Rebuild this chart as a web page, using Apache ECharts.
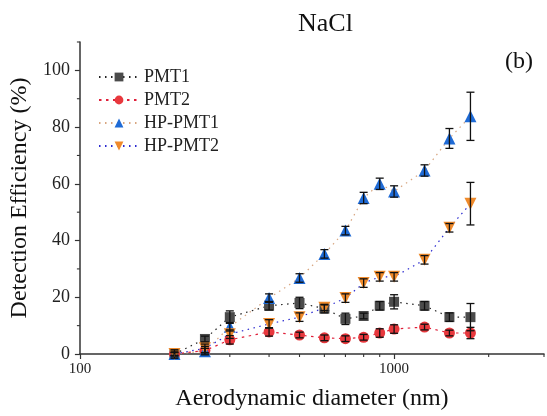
<!DOCTYPE html>
<html>
<head>
<meta charset="utf-8">
<script src="https://cdn.jsdelivr.net/npm/echarts@6/dist/echarts.min.js"></script>
<style>
  html, body { margin: 0; padding: 0; background: #fff; }
  #main { width: 547px; height: 416px; }
</style>
</head>
<body>
<div id="main"></div>
<script>
// aerodynamic diameter (nm)
var diameters = [200, 250, 300, 400, 500, 600, 700, 800, 900, 1000, 1250, 1500, 1750];

// detection efficiency (%) and error bars
var pmt1      = [0, 5.3, 13, 17, 18, 16, 12.4, 13.4, 17, 18.4, 17, 13, 13];
var pmt1Err   = [0.5, 1, 2.2, 1.5, 2, 1.5, 2, 1, 1.5, 2.5, 1.5, 1.5, 4.8];
var pmt2      = [0, 1.2, 5, 7.8, 6.7, 5.7, 5.4, 5.9, 7.4, 8.8, 9.5, 7.4, 7.4];
var pmt2Err   = [0.5, 1.5, 1.5, 1.5, 1, 1, 1, 1, 1.5, 1.5, 1, 1, 2];
var hpPmt1    = [0, 1, 9.6, 19.7, 26.8, 35.3, 43.5, 55, 60, 57.3, 64.7, 76, 83.8];
var hpPmt1Err = [1.5, 1, 1.5, 1.5, 1.5, 1.5, 1.5, 2, 2, 2, 2, 3.5, 8.5];
var hpPmt2    = [0, 2, 7, 10.6, 13, 16.3, 19.7, 25, 27.2, 27.2, 33.2, 44.5, 53];
var hpPmt2Err = [1, 1.5, 1.5, 1.5, 1.5, 1, 1.5, 1.5, 1.5, 1.5, 1.5, 1.5, 7.5];

// minor tick positions
var xMinorTicks = [200, 300, 400, 500, 600, 700, 800, 900, 2000, 3000];
var yMinorTicks = [10, 30, 50, 70, 90, 110];

var FONT = "'Liberation Serif', 'DejaVu Serif', serif";

function pairs(ys) {
    return diameters.map(function (d, i) { return [d, ys[i]]; });
}
function triples(ys, errs) {
    return diameters.map(function (d, i) { return [d, ys[i], errs[i]]; });
}

function lineSeries(name, ys, symbol, size, color, lineColor, dash, rotate) {
    return {
        name: name,
        type: 'line',
        data: pairs(ys),
        symbol: symbol,
        symbolSize: size,
        symbolRotate: rotate || 0,
        showAllSymbol: true,
        itemStyle: { color: color, opacity: 1 },
        lineStyle: { color: lineColor, width: 1.2, type: dash },
        emphasis: { disabled: true },
        z: 3
    };
}

function errorSeries(ys, errs) {
    return {
        type: 'custom',
        data: triples(ys, errs),
        clip: false,
        z: 5,
        silent: true,
        renderItem: function (params, api) {
            var x = api.value(0), y = api.value(1), e = api.value(2);
            var hi = api.coord([x, y + e]);
            var lo = api.coord([x, y - e]);
            var w = 4;
            var st = { stroke: '#111', lineWidth: 1.3 };
            return {
                type: 'group',
                children: [
                    { type: 'line', shape: { x1: hi[0], y1: hi[1], x2: lo[0], y2: lo[1] }, style: st },
                    { type: 'line', shape: { x1: hi[0] - w, y1: hi[1], x2: hi[0] + w, y2: hi[1] }, style: st },
                    { type: 'line', shape: { x1: lo[0] - w, y1: lo[1], x2: lo[0] + w, y2: lo[1] }, style: st }
                ]
            };
        }
    };
}

var myChart = echarts.init(document.getElementById('main'));
myChart.setOption({
    animation: false,
    backgroundColor: '#fff',
    title: {
        text: 'NaCl',
        left: 293,
        top: 6,
        textStyle: { fontFamily: FONT, fontSize: 26, fontWeight: 'normal', color: '#111' }
    },
    graphic: [{
        type: 'text',
        left: 505,
        top: 50,
        style: { text: '(b)', font: "24px 'Liberation Serif', serif", fill: '#111' }
    }],
    legend: {
        data: ['PMT1', 'PMT2', 'HP-PMT1', 'HP-PMT2'],
        orient: 'vertical',
        left: 93,
        top: 63,
        itemWidth: 40,
        itemHeight: 11,
        itemGap: 5,
        textStyle: { fontFamily: FONT, fontSize: 18, color: '#222' }
    },
    grid: { left: 78, right: 3, top: 42, bottom: 62, containLabel: false },
    xAxis: {
        type: 'log',
        logBase: 10,
        min: 100,
        max: 3000,
        name: 'Aerodynamic diameter (nm)',
        nameLocation: 'middle',
        nameGap: 33,
        nameTextStyle: { fontFamily: FONT, fontSize: 24, color: '#111' },
        axisLine: { lineStyle: { color: '#333', width: 1.5 } },
        axisTick: { show: true, length: 5, lineStyle: { color: '#333', width: 1.2 } },
        axisLabel: {
            showMaxLabel: false, margin: 8, fontFamily: FONT, fontSize: 15, color: '#222',
            formatter: function (v) { return String(Math.round(v)); }
        },
        splitLine: { show: false }
    },
    yAxis: {
        type: 'value',
        min: 0,
        max: 110,
        interval: 20,
        name: 'Detection Efficiency (%)',
        nameLocation: 'middle',
        nameGap: 42,
        nameTextStyle: { fontFamily: FONT, fontSize: 24, color: '#111' },
        axisLine: { show: true, lineStyle: { color: '#333', width: 1.5 } },
        axisTick: { show: true, length: 5, lineStyle: { color: '#333', width: 1.2 } },
        axisLabel: { showMaxLabel: false, margin: 10, fontFamily: FONT, fontSize: 18, color: '#222' },
        splitLine: { show: false }
    },
    series: [
        lineSeries('PMT1', pmt1, 'rect', 10, '#4b4b4b', '#222', [1.5, 4.5]),
        lineSeries('PMT2', pmt2, 'circle', 11, '#e8383d', '#e0203a', [2.5, 4.5]),
        lineSeries('HP-PMT1', hpPmt1, 'triangle', 12, '#1f6bd6', '#d8a680', [1.5, 4.5]),
        lineSeries('HP-PMT2', hpPmt2, 'triangle', 12, '#ef8a2b', '#2a2ad0', [1.5, 4.5], 180),
        errorSeries(pmt1, pmt1Err),
        errorSeries(pmt2, pmt2Err),
        errorSeries(hpPmt1, hpPmt1Err),
        errorSeries(hpPmt2, hpPmt2Err),
        {
            // minor ticks on the x axis
            type: 'custom',
            data: xMinorTicks.map(function (v) { return [v, 0]; }),
            clip: false,
            silent: true,
            z: 6,
            renderItem: function (params, api) {
                var p = api.coord([api.value(0), 0]);
                return { type: 'line', shape: { x1: p[0], y1: p[1], x2: p[0], y2: p[1] + 3 },
                         style: { stroke: '#333', lineWidth: 1.1 } };
            }
        },
        {
            // minor ticks on the y axis
            type: 'custom',
            data: yMinorTicks.map(function (v) { return [100, v]; }),
            clip: false,
            silent: true,
            z: 6,
            renderItem: function (params, api) {
                var p = api.coord([100, api.value(1)]);
                return { type: 'line', shape: { x1: p[0] - 3, y1: p[1], x2: p[0], y2: p[1] },
                         style: { stroke: '#333', lineWidth: 1.1 } };
            }
        }
    ]
});
</script>
</body>
</html>
